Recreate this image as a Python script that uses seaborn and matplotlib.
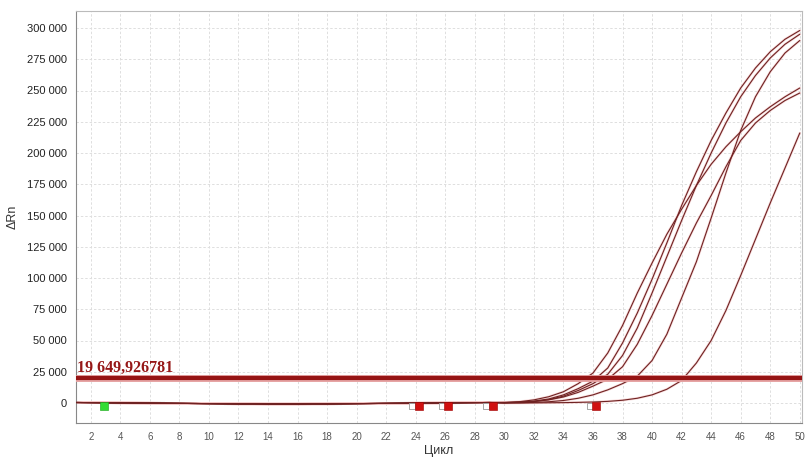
import matplotlib
matplotlib.use("Agg")
import matplotlib.pyplot as plt
import pandas as pd
import seaborn as sns

# ---- data ----
cycles = list(range(1, 51))
# shared flat baseline for cycles 1..29
baseline = [400, 300, 200, 100, 0, -100, -200, -300, -400, -500, -600, -700, -700,
            -800, -800, -800, -700, -700, -600, -500, -400, -300, -200, -100, 0,
            100, 200, 300, 400]
# cycles 30..50 for each well
rise_s1 = [500, 1000, 2500, 5000, 9000, 15500, 24000, 40000, 62000, 88000, 112000,
           135000, 155000, 174000, 191000, 205000, 217000, 228000, 237000, 245000, 252000]
rise_t1 = [300, 700, 1500, 3200, 6500, 11500, 17500, 28000, 48000, 72000, 99000,
           128000, 158000, 185000, 210000, 232000, 252000, 268000, 281000, 291000, 298000]
rise_t2 = [200, 500, 1200, 2700, 5500, 10000, 15500, 23000, 38000, 60000, 88000,
           117000, 146000, 174000, 200000, 224000, 245000, 262000, 276000, 287000, 295000]
rise_s2 = [300, 600, 1200, 2500, 4800, 8500, 13500, 19000, 29000, 47000, 70000,
           95000, 120000, 144000, 166000, 189000, 210000, 224000, 234000, 242000, 248000]
rise_t3 = [100, 200, 500, 1000, 2000, 3800, 6500, 10500, 15500, 21500, 34000,
           55000, 84000, 113000, 148000, 184000, 218000, 245000, 265000, 280000, 290000]
rise_l = [0, 0, 100, 200, 300, 500, 800, 1300, 2200, 3800, 6500,
          11000, 18000, 32000, 50000, 74000, 102000, 131000, 160000, 188000, 216000]
wells = {"A1": rise_s1, "A2": rise_t1, "A3": rise_t2, "A4": rise_s2, "A5": rise_t3, "A6": rise_l}

threshold = 19649.926781
threshold_label = "19 649,926781"

start_marker = [2.9]
end_markers = [24.2, 26.2, 29.2, 36.2]
marker_level = -2300

rows = []
for well, rise in wells.items():
    for c, v in zip(cycles, baseline + rise):
        rows.append({"cycle": c, "drn": v, "well": well})
df = pd.DataFrame(rows)

sns.set_style("white")
plt.rcParams["font.family"] = ["Liberation Sans", "DejaVu Sans"]

fig = plt.figure(figsize=(8.05, 4.57), dpi=100)
ax = fig.add_axes([76 / 805, 1 - 423 / 457, 726 / 805, 412 / 457])

# grid
for x in range(2, 51, 2):
    ax.axvline(x, color="#dedede", lw=0.7, ls=(0, (2.5, 2)), zorder=0)
for y in range(0, 300001, 25000):
    ax.axhline(y, color="#dedede", lw=0.7, ls=(0, (2.5, 2)), zorder=0)

# curves: soft halo then dark line
pal = {w: "#f3c2c2" for w in wells}
sns.lineplot(data=df, x="cycle", y="drn", hue="well", palette=pal, lw=1.8,
             legend=False, ax=ax, zorder=2, alpha=0.6)
pal = {w: "#6f2222" for w in wells}
sns.lineplot(data=df, x="cycle", y="drn", hue="well", palette=pal, lw=0.8,
             legend=False, ax=ax, zorder=3)

# threshold
ax.axhline(threshold, color="#e6a3a3", lw=5.0, zorder=4)
ax.axhline(threshold, color="#961414", lw=3.0, zorder=5)
ax.text(1.05, threshold + 1800, threshold_label, family="Liberation Serif",
        fontsize=11.5, fontweight="bold", color="#961818", ha="left", va="bottom", zorder=6)

# baseline markers
sns.scatterplot(x=start_marker, y=[marker_level] * len(start_marker), marker="s",
                s=30, color="#33dd33", edgecolor="#22aa22", ax=ax, zorder=7)
sns.scatterplot(x=[c - 0.42 for c in end_markers], y=[marker_level + 300] * len(end_markers),
                marker="s", s=24, color="white", edgecolor="#999999", linewidth=0.6,
                ax=ax, zorder=7)
sns.scatterplot(x=end_markers, y=[marker_level] * len(end_markers), marker="s",
                s=26, color="#d01010", edgecolor="#a00000", ax=ax, zorder=8)

ax.set_xlim(1, 50.15)
ax.set_ylim(-16000, 313600)
ax.set_xticks(range(2, 51, 2))
ax.set_yticks(range(0, 300001, 25000))
ax.set_yticklabels([f"{v:,}".replace(",", " ") for v in range(0, 300001, 25000)])
ax.tick_params(axis="y", labelsize=8, labelcolor="#222222", length=3, color="#888888")
ax.tick_params(axis="x", labelsize=7, labelcolor="#555555", length=3, color="#bbbbbb")
ax.set_xlabel("Цикл", fontsize=9, color="#333333", labelpad=2)
ax.set_ylabel("ΔRn", fontsize=9, color="#333333", labelpad=6)

for side in ["left", "bottom"]:
    ax.spines[side].set_color("#888888")
for side in ["top", "right"]:
    ax.spines[side].set_color("#bbbbbb")
for s in ax.spines.values():
    s.set_linewidth(0.8)

fig.savefig("out.png", dpi=100)
